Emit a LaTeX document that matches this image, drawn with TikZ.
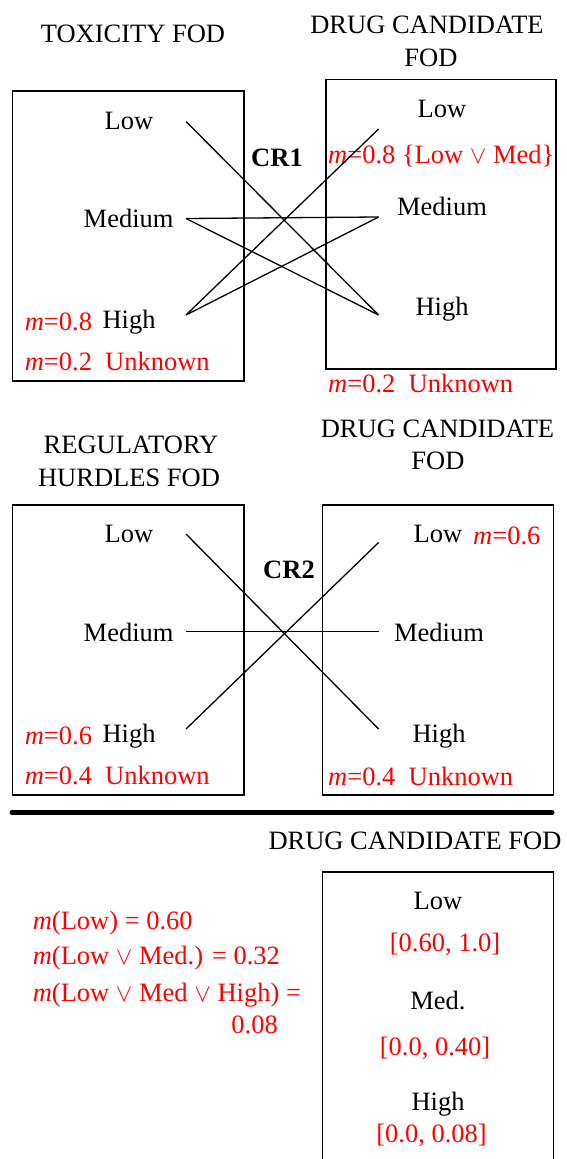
\documentclass[tikz,border=0pt]{standalone}
\usepackage{fontspec}
\setmainfont{Liberation Serif}
\newcommand{\mval}{\textit{m}}
\tikzset{
  lbl/.style={font=\fontsize{26.5}{30}\selectfont, inner sep=0pt, text height=17.5pt, text depth=0pt},
  val/.style={lbl, text=red},
  fod/.style={line width=1.5pt},
  link/.style={line width=1.3pt},
}
\begin{document}
\begin{tikzpicture}[x=1pt,y=-1pt]
  \useasboundingbox (0,0) rectangle (566,1159);
  % first combination rule: toxicity
  \node[lbl] (toxT) at (133,34) {TOXICITY FOD};
  \node[lbl] (dcT1a) at (427,25) {DRUG CANDIDATE};
  \node[lbl] (dcT1b) at (431,58) {FOD};
  \draw[fod] (12.7,91) rectangle (243.8,381);
  \draw[fod] (326,79.5) rectangle (556,369);
  \node[lbl] (toxL) at (129,121) {Low};
  \node[lbl] (toxM) at (128.6,219) {Medium};
  \node[lbl] (toxH) at (129,320) {High};
  \node[val,anchor=west] (toxHm) at (24.6,322) {\mval=0.8};
  \node[val,anchor=west] (toxU) at (24.6,362) {\mval=0.2\ \ Unknown};
  \node[lbl,font=\fontsize{26.5}{30}\selectfont\bfseries] (cr1) at (277,158) {CR1};
  \node[lbl] (dcL1) at (442,109) {Low};
  \node[val,anchor=west] (dcLm1) at (328,155) {\mval=0.8 \{Low $\vee$ Med\}};
  \node[lbl] (dcM1) at (442,207) {Medium};
  \node[lbl] (dcH1) at (442,307) {High};
  \node[val,anchor=west] (dcU1) at (328,384) {\mval=0.2\ \ Unknown};
  \coordinate (aL) at (186,121.5);
  \coordinate (aM) at (186,218.5);
  \coordinate (aH) at (186,315);
  \coordinate (bL) at (378.6,129);
  \coordinate (bM) at (378.6,217);
  \coordinate (bH) at (378.6,315);
  \draw[link] (aL) -- (bH);
  \draw[link] (aM) -- (bM);
  \draw[link] (aM) -- (bH);
  \draw[link] (aH) -- (bL);
  \draw[link] (aH) -- (bM);
  % second combination rule: regulatory hurdles
  \node[lbl] (regTa) at (131,445) {REGULATORY};
  \node[lbl] (regTb) at (129,478) {HURDLES FOD};
  \node[lbl] (dcT2a) at (437.5,428.5) {DRUG CANDIDATE};
  \node[lbl] (dcT2b) at (438,461) {FOD};
  \draw[fod] (12.7,505) rectangle (244,795);
  \draw[fod] (322.5,505) rectangle (553.6,795);
  \node[lbl] (regL) at (129,534) {Low};
  \node[lbl] (regM) at (128.6,633) {Medium};
  \node[lbl] (regH) at (129,734) {High};
  \node[val,anchor=west] (regHm) at (24.6,736) {\mval=0.6};
  \node[val,anchor=west] (regU) at (24.6,776) {\mval=0.4\ \ Unknown};
  \node[lbl,font=\fontsize{26.5}{30}\selectfont\bfseries] (cr2) at (289,570) {CR2};
  \node[lbl] (dcL2) at (438,534) {Low};
  \node[val,anchor=west] (dcLm2) at (473,536) {\mval=0.6};
  \node[lbl] (dcM2) at (439,633) {Medium};
  \node[lbl] (dcH2) at (439,734) {High};
  \node[val,anchor=west] (dcU2) at (328,777) {\mval=0.4\ \ Unknown};
  \coordinate (cL) at (186,534);
  \coordinate (cM) at (186,631.5);
  \coordinate (cH) at (186,729);
  \coordinate (dL) at (378.6,542.5);
  \coordinate (dM) at (378.6,631.5);
  \coordinate (dH) at (378.6,729);
  \draw[link] (cL) -- (dH);
  \draw[link] (cM) -- (dM);
  \draw[link] (cH) -- (dL);
  % result
  \coordinate (sepA) at (12,812.5);
  \coordinate (sepB) at (552,812.5);
  \draw[line width=5pt,line cap=round] (sepA) -- (sepB);
  \node[lbl] (resT) at (415,841) {DRUG CANDIDATE FOD};
  \draw[fod] (322.5,1165) |- (553.6,872) -- (553.6,1165);
  \node[val,anchor=west] (res1) at (32.6,921) {\mval(Low) = 0.60};
  \node[val,anchor=west] (res2) at (32.6,956) {\mval(Low $\vee$ Med.) = 0.32};
  \node[val,anchor=west] (res3) at (32.6,993) {\mval(Low $\vee$ Med $\vee$ High) =};
  \node[val,anchor=east] (res4) at (278,1025) {0.08};
  \node[lbl] (resL) at (438,900.5) {Low};
  \node[val] (resLi) at (445,942.5) {[0.60, 1.0]};
  \node[lbl] (resM) at (438,1001) {Med.};
  \node[val] (resMi) at (435,1046.5) {[0.0, 0.40]};
  \node[lbl] (resH) at (438,1102) {High};
  \node[val] (resHi) at (431.5,1134) {[0.0, 0.08]};
\end{tikzpicture}
\end{document}
